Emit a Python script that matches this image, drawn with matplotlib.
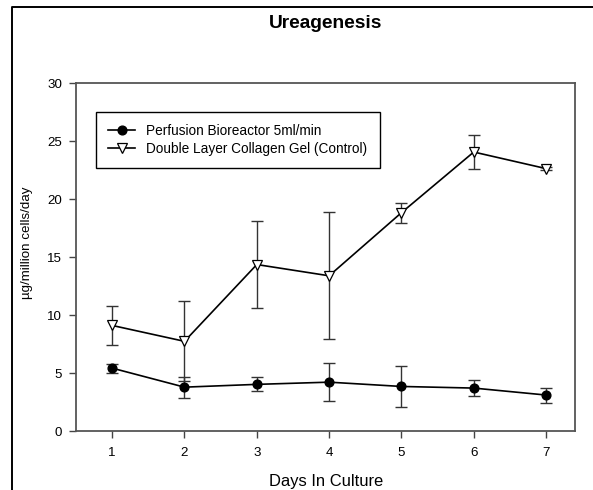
"""Ureagenesis over days in culture: perfusion bioreactor vs collagen gel control."""

import matplotlib

matplotlib.use("Agg")
import matplotlib.pyplot as plt
from matplotlib.lines import Line2D

plt.rcParams["font.family"] = ["Liberation Sans", "DejaVu Sans"]

days = [1, 2, 3, 4, 5, 6, 7]
perfusion_mean = [5.42, 3.78, 4.02, 4.21, 3.84, 3.70, 3.10]
perfusion_sd = [0.39, 0.90, 0.61, 1.62, 1.77, 0.72, 0.65]
control_mean = [9.10, 7.73, 14.35, 13.38, 18.82, 24.05, 22.62]
control_sd = [1.70, 3.45, 3.77, 5.46, 0.85, 1.45, 0.15]

labels = ["Perfusion Bioreactor 5ml/min", "Double Layer Collagen Gel (Control)"]
yticks = [0, 5, 10, 15, 20, 25, 30]

W, H = 593, 490
fig = plt.figure(figsize=(W / 100, H / 100), dpi=100)
ax = fig.add_axes([76 / W, 1 - 431 / H, (575 - 76) / W, (431 - 83) / H])

err_kw = dict(fmt="none", ecolor="#333333", elinewidth=1.0, capsize=4, capthick=1.0, zorder=2)
ax.errorbar(days, perfusion_mean, yerr=perfusion_sd, **err_kw)
ax.errorbar(days, control_mean, yerr=control_sd, **err_kw)

ax.plot(days, perfusion_mean, "-o", color="black", lw=1.2, ms=6.3,
        mfc="black", mec="black", label=labels[0], zorder=3)
ax.plot(days, control_mean, "-v", color="black", lw=1.2, ms=6.8,
        mfc="white", mec="black", mew=0.9, label=labels[1], zorder=3)

ax.set_xlim(0.5, 7.4)
ax.set_ylim(0, 30)
ax.set_xticks(days)
ax.set_yticks(yticks)
ax.tick_params(direction="out", length=5, width=1, color="#444444",
               labelsize=9.6, pad=5)
ax.tick_params(axis="x", pad=6.5)

for sp in ax.spines.values():
    sp.set_color("#555555")
    sp.set_linewidth(1.3)

leg = ax.legend(loc="upper left", bbox_to_anchor=(0.0395, 0.9175), borderaxespad=0,
                fontsize=9.85, frameon=True, fancybox=False, framealpha=1,
                edgecolor="black", numpoints=1, handlelength=2.0,
                handletextpad=0.8, labelspacing=0.3, borderpad=0.9)
leg.get_frame().set_linewidth(1.0)

fig.text(326 / W, 1 - 28.3 / H, "Ureagenesis", ha="center", va="baseline",
         fontsize=13.8, fontweight="bold")
fig.text(326 / W, 1 - 485.7 / H, "Days In Culture", ha="center", va="baseline",
         fontsize=11.9)
fig.text(27 / W, 1 - 242.5 / H, "µg/million cells/day", ha="center", va="center",
         rotation=90, fontsize=9.6)

# outer frame (left and top edges visible)
fig.add_artist(Line2D([12 / W, 12 / W, 1.0], [0.0, 1 - 7 / H, 1 - 7 / H],
                      color="black", lw=1.4, transform=fig.transFigure))

fig.savefig("out.png", dpi=100)
